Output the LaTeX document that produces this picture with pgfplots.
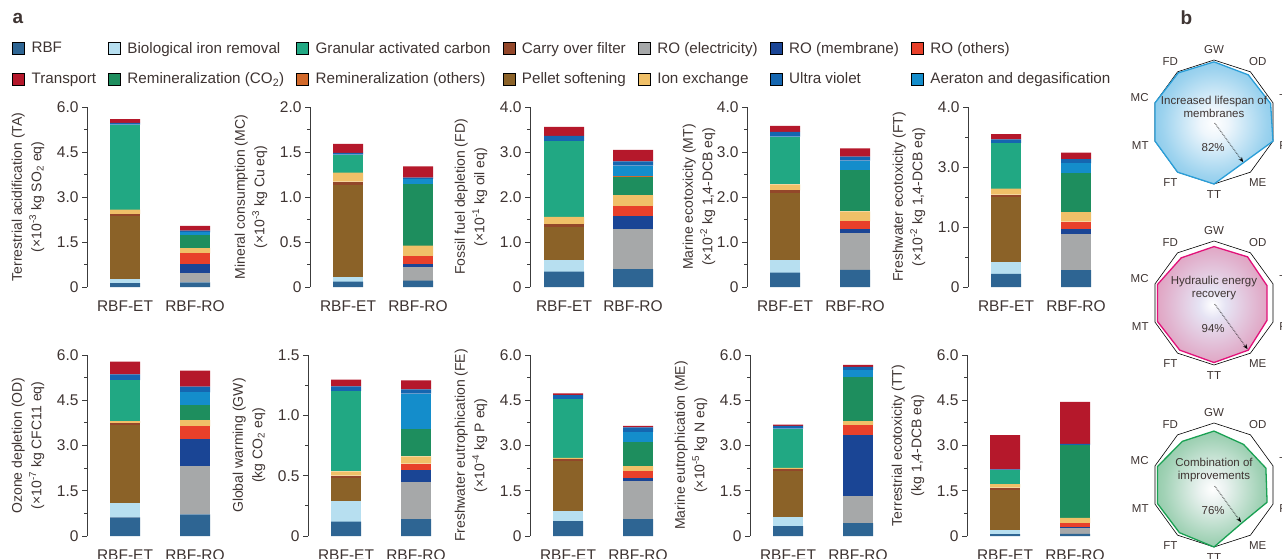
\documentclass[border=0pt]{standalone}
\usepackage{fontspec}
\setmainfont{Liberation Sans}
\usepackage{pgfplots}
\usepackage{pgfplotstable}
\pgfplotsset{compat=1.18}
\usepgfplotslibrary{polar}
\usetikzlibrary{arrows.meta}

\definecolor{cRBF}{HTML}{2E6593}
\definecolor{cBio}{HTML}{B7DFF0}
\definecolor{cGAC}{HTML}{21A883}
\definecolor{cCar}{HTML}{93472A}
\definecolor{cROe}{HTML}{A6A8A9}
\definecolor{cROm}{HTML}{1A4595}
\definecolor{cROo}{HTML}{E8402A}
\definecolor{cTra}{HTML}{B5182B}
\definecolor{cRCO}{HTML}{1E8E5E}
\definecolor{cRMo}{HTML}{D2692A}
\definecolor{cPel}{HTML}{8B6228}
\definecolor{cIon}{HTML}{F0C068}
\definecolor{cUV}{HTML}{1566B0}
\definecolor{cAer}{HTML}{148DCB}
\definecolor{txc}{HTML}{3E3432}
\definecolor{axc}{HTML}{3C3C3C}
\definecolor{bBlue}{HTML}{3AA8DE}
\definecolor{eBlue}{HTML}{2A9ED8}
\definecolor{bPink}{HTML}{D9618F}
\definecolor{ePink}{HTML}{E2127A}
\definecolor{bGreen}{HTML}{4AAB70}
\definecolor{eGreen}{HTML}{1AA153}
\definecolor{cLav}{HTML}{E6E4F4}
\definecolor{cIce}{HTML}{EEF6FC}
\definecolor{cMint}{HTML}{EAF2F0}

\pgfdeclareradialshading{shBlue}{\pgfpointorigin}{color(0bp)=(white); color(6bp)=(cIce); color(22bp)=(bBlue!45!cIce); color(40bp)=(bBlue!85!white); color(50bp)=(bBlue)}
\pgfdeclareradialshading{shPink}{\pgfpointorigin}{color(0bp)=(white); color(6bp)=(cLav); color(22bp)=(bPink!40!cLav); color(40bp)=(bPink!85!white); color(50bp)=(bPink)}
\pgfdeclareradialshading{shGreen}{\pgfpointorigin}{color(0bp)=(white); color(6bp)=(cMint); color(22bp)=(bGreen!45!cMint); color(40bp)=(bGreen!85!white); color(50bp)=(bGreen)}

% columns: x RBF Bio ROe ROm ROo Pel Car Ion GAC RCO RMo Aer UV Tra
\pgfplotstableread{
x RBF Bio ROe ROm ROo Pel Car Ion GAC RCO RMo Aer UV Tra
38 0.13 0.15 0 0 0 2.08 0.07 0.15 2.83 0 0 0 0.06 0.13
108 0.155 0 0.30 0.325 0.34 0 0 0.18 0 0.42 0.02 0.08 0.06 0.16
}\tTA
\pgfplotstableread{
x RBF Bio ROe ROm ROo Pel Car Ion GAC RCO RMo Aer UV Tra
38 0.06 0.055 0 0 0 1.022 0.033 0.10 0.20 0 0 0 0.02 0.10
108 0.07 0 0.156 0.034 0.08 0 0 0.12 0 0.69 0 0.05 0.015 0.125
}\tMC
\pgfplotstableread{
x RBF Bio ROe ROm ROo Pel Car Ion GAC RCO RMo Aer UV Tra
34 0.34 0.26 0 0 0 0.74 0.06 0.16 1.69 0 0 0 0.11 0.20
103 0.40 0 0.89 0.28 0.22 0 0 0.25 0 0.40 0.03 0.23 0.09 0.26
}\tFD
\pgfplotstableread{
x RBF Bio ROe ROm ROo Pel Car Ion GAC RCO RMo Aer UV Tra
38 0.32 0.27 0 0 0 1.50 0.06 0.13 1.06 0 0 0 0.11 0.13
108 0.38 0 0.81 0.10 0.17 0 0 0.22 0 0.91 0 0.22 0.09 0.18
}\tMT
\pgfplotstableread{
x RBF Bio ROe ROm ROo Pel Car Ion GAC RCO RMo Aer UV Tra
38 0.22 0.20 0 0 0 1.08 0.04 0.10 0.76 0 0 0 0.06 0.09
108 0.28 0 0.60 0.09 0.12 0 0 0.16 0 0.65 0 0.16 0.07 0.11
}\tFT
\pgfplotstableread{
x RBF Bio ROe ROm ROo Pel Car Ion GAC RCO RMo Aer UV Tra
38 0.62 0.47 0 0 0 2.59 0.07 0.06 1.36 0 0 0 0.19 0.42
108 0.72 0 1.59 0.90 0.42 0 0 0.21 0 0.50 0 0.42 0.19 0.53
}\tOD
\pgfplotstableread{
x RBF Bio ROe ROm ROo Pel Car Ion GAC RCO RMo Aer UV Tra
38 0.12 0.17 0 0 0 0.19 0.02 0.035 0.665 0 0 0 0.04 0.055
108 0.14 0 0.31 0.10 0.05 0 0 0.06 0 0.23 0 0.29 0.035 0.075
}\tGW
\pgfplotstableread{
x RBF Bio ROe ROm ROo Pel Car Ion GAC RCO RMo Aer UV Tra
38 0.49 0.34 0 0 0 1.65 0.07 0.04 1.95 0 0 0 0.13 0.06
108 0.56 0 1.27 0.10 0.22 0 0 0.17 0 0.80 0 0.33 0.15 0.05
}\tFE
\pgfplotstableread{
x RBF Bio ROe ROm ROo Pel Car Ion GAC RCO RMo Aer UV Tra
38 0.33 0.29 0 0 0 1.53 0.06 0.05 1.30 0 0 0 0.09 0.04
108 0.43 0 0.89 2.02 0.34 0 0 0.13 0 1.47 0 0.22 0.11 0.06
}\tME
\pgfplotstableread{
x RBF Bio ROe ROm ROo Pel Car Ion GAC RCO RMo Aer UV Tra
38 0.06 0.13 0 0 0 1.33 0.08 0.12 0.46 0 0 0 0.03 1.13
108 0.07 0 0.20 0.04 0.12 0 0 0.17 0 2.41 0 0 0.04 1.40
}\tTT

\newcommand\stackbars[1]{%
 \addplot[fill=cRBF,draw=none] table[x=x,y=RBF]{#1};
 \addplot[fill=cBio,draw=none] table[x=x,y=Bio]{#1};
 \addplot[fill=cROe,draw=none] table[x=x,y=ROe]{#1};
 \addplot[fill=cROm,draw=none] table[x=x,y=ROm]{#1};
 \addplot[fill=cROo,draw=none] table[x=x,y=ROo]{#1};
 \addplot[fill=cPel,draw=none] table[x=x,y=Pel]{#1};
 \addplot[fill=cCar,draw=none] table[x=x,y=Car]{#1};
 \addplot[fill=cIon,draw=none] table[x=x,y=Ion]{#1};
 \addplot[fill=cGAC,draw=none] table[x=x,y=GAC]{#1};
 \addplot[fill=cRCO,draw=none] table[x=x,y=RCO]{#1};
 \addplot[fill=cRMo,draw=none] table[x=x,y=RMo]{#1};
 \addplot[fill=cAer,draw=none] table[x=x,y=Aer]{#1};
 \addplot[fill=cUV,draw=none] table[x=x,y=UV]{#1};
 \addplot[fill=cTra,draw=none] table[x=x,y=Tra]{#1};
}

\pgfplotsset{
 barax/.style={
  ybar stacked, bar width=30pt,
  scale only axis, width=140pt, height=180pt,
  xmin=0, xmax=140, ymin=0,
  axis y line*=left, axis x line*=bottom,
  x axis line style={draw=none},
  xtick={38,108}, xticklabels={RBF-ET,RBF-RO},
  x tick style={draw=none},
  tick align=outside,
  major tick length=5pt, minor tick length=3pt,
  minor y tick num=1,
  y axis line style={line width=0.8pt, color=axc},
  y tick style={line width=0.8pt, color=axc},
  yticklabel style={font=\fontsize{15.5}{18}\selectfont, text=txc},
  xticklabel style={font=\fontsize{15.5}{18}\selectfont, text=txc, yshift=-5pt},
  ylabel style={font=\fontsize{14}{19.5}\selectfont, align=center, text=txc, at={(axis description cs:-0.421,0.5)}, anchor=center},
  clip=false,
 },
 radar/.style={
  scale only axis, width=124pt, height=124pt, hide axis,
  xmin=0, xmax=360, ymin=0, ymax=1, clip=false, anchor=center,
 },
}
\newcommand\radlabels{%
 \node[anchor=-90] at (axis cs:90,1.05) {GW};
 \node[anchor=-126] at (axis cs:54,1.05) {OD};
 \node[anchor=-162] at (axis cs:18,1.05) {TA};
 \node[anchor=162] at (axis cs:-18,1.05) {FE};
 \node[anchor=126] at (axis cs:-54,1.05) {ME};
 \node[anchor=90] at (axis cs:-90,1.05) {TT};
 \node[anchor=54] at (axis cs:-126,1.05) {FT};
 \node[anchor=18] at (axis cs:-162,1.05) {MT};
 \node[anchor=-18] at (axis cs:162,1.05) {MC};
 \node[anchor=-54] at (axis cs:126,1.05) {FD};
}

\begin{document}
\begin{tikzpicture}
\path[use as bounding box] (0pt,0pt) rectangle (1282pt,558pt);
\clip (0pt,0pt) rectangle (1282pt,558pt);

% legend and panel letters
\begin{axis}[at={(0pt,0pt)}, anchor=south west, scale only axis, width=1282pt, height=558pt,
  xmin=0, xmax=1282, ymin=0, ymax=558, hide axis, clip=false,
  legend columns=7,
  legend cell align=left,
  legend image code/.code={\fill[#1] (0pt,-6pt) rectangle (12pt,6pt); \path (17pt,0pt);},
  legend style={at={(axis cs:12,518)}, anchor=north west, draw=none, fill=none, inner sep=0pt,
    font=\fontsize{15.2}{18}\selectfont, text=txc, row sep=14pt,
    /tikz/every even column/.append style={column sep=10pt},
    /tikz/column 12/.append style={column sep=-5pt}}]
\addplot[draw=none, forget plot] coordinates {(0,0)};
\addlegendimage{fill=cRBF}\addlegendentry{RBF}
\addlegendimage{fill=cBio}\addlegendentry{Biological iron removal}
\addlegendimage{fill=cGAC}\addlegendentry{Granular activated carbon}
\addlegendimage{fill=cCar}\addlegendentry{Carry over filter}
\addlegendimage{fill=cROe}\addlegendentry{RO (electricity)}
\addlegendimage{fill=cROm}\addlegendentry{RO (membrane)}
\addlegendimage{fill=cROo}\addlegendentry{RO (others)}
\addlegendimage{fill=cTra}\addlegendentry{Transport}
\addlegendimage{fill=cRCO}\addlegendentry{Remineralization (CO\textsubscript{2})}
\addlegendimage{fill=cRMo}\addlegendentry{Remineralization (others)}
\addlegendimage{fill=cPel}\addlegendentry{Pellet softening}
\addlegendimage{fill=cIon}\addlegendentry{Ion exchange}
\addlegendimage{fill=cUV}\addlegendentry{Ultra violet}
\addlegendimage{fill=cAer}\addlegendentry{Aeraton and degasification}
\node[font=\fontsize{19}{20}\selectfont\bfseries, text=txc, anchor=west] at (axis cs:9,540) {a};
\node[font=\fontsize{19}{20}\selectfont\bfseries, text=txc, anchor=west] at (axis cs:1177,540) {b};
\end{axis}

% ---- top row ----
\begin{axis}[barax, at={(87pt,271pt)}, anchor=south west, ymax=6,
  ytick={0,1.5,3,4.5,6}, yticklabels={0,1.5,3.0,4.5,6.0},
  ylabel={Terrestrial acidification (TA)\\(×10\textsuperscript{-3} kg SO\textsubscript{2} eq)}]
\stackbars{\tTA}
\end{axis}
\begin{axis}[barax, at={(310pt,271pt)}, anchor=south west, ymax=2,
  ytick={0,0.5,1,1.5,2}, yticklabels={0,0.5,1.0,1.5,2.0},
  ylabel={Mineral consumption (MC)\\(×10\textsuperscript{-3} kg Cu eq)}]
\stackbars{\tMC}
\end{axis}
\begin{axis}[barax, at={(530pt,271pt)}, anchor=south west, ymax=4, bar width=40pt,
  xtick={34,103},
  ytick={0,1,2,3,4}, yticklabels={0,1.0,2.0,3.0,4.0},
  ylabel={Fossil fuel depletion (FD)\\(×10\textsuperscript{-1} kg oil eq)}]
\stackbars{\tFD}
\end{axis}
\begin{axis}[barax, at={(747pt,271pt)}, anchor=south west, ymax=4,
  ytick={0,1,2,3,4}, yticklabels={0,1.0,2.0,3.0,4.0},
  ylabel style={at={(axis description cs:-0.343,0.5)}},
  ylabel={Marine ecotoxicity (MT)\\(×10\textsuperscript{-2} kg 1,4-DCB eq)}]
\stackbars{\tMT}
\end{axis}
\begin{axis}[barax, at={(968pt,271pt)}, anchor=south west, ymax=3,
  ytick={0,1,2,3}, yticklabels={0,1.0,3.0,4.0},
  ylabel={Freshwater ecotoxicity (FT)\\(×10\textsuperscript{-2} kg 1,4-DCB eq)}]
\stackbars{\tFT}
\end{axis}

% ---- bottom row ----
\begin{axis}[barax, height=181pt, at={(87pt,22pt)}, anchor=south west, ymax=6,
  ytick={0,1.5,3,4.5,6}, yticklabels={0,1.5,3.0,4.5,6.0},
  ylabel={Ozone depletion (OD)\\(×10\textsuperscript{-7} kg CFC11 eq)}]
\stackbars{\tOD}
\end{axis}
\begin{axis}[barax, height=181pt, at={(308pt,22pt)}, anchor=south west, ymax=1.5,
  ytick={0,0.5,1,1.5}, yticklabels={0,0.5,1.0,1.5},
  ylabel={Global warming (GW)\\(kg CO\textsubscript{2} eq)}]
\stackbars{\tGW}
\end{axis}
\begin{axis}[barax, height=181pt, at={(530pt,22pt)}, anchor=south west, ymax=6,
  ytick={0,1.5,3,4.5,6}, yticklabels={0,1.5,3.0,4.5,6.0},
  ylabel={Freshwater eutrophication (FE)\\(×10\textsuperscript{-4} kg P eq)}]
\stackbars{\tFE}
\end{axis}
\begin{axis}[barax, height=181pt, at={(750pt,22pt)}, anchor=south west, ymax=6,
  ytick={0,1.5,3,4.5,6}, yticklabels={0,1.5,3.0,4.5,6.0},
  ylabel={Marine eutrophication (ME)\\(×10\textsuperscript{-5} kg N eq)}]
\stackbars{\tME}
\end{axis}
\begin{axis}[barax, height=181pt, at={(967pt,22pt)}, anchor=south west, ymax=6,
  ytick={0,1.5,3,4.5,6}, yticklabels={0,1.5,3.0,4.5,6.0},
  ylabel={Terrestrial ecotoxicity (TT)\\(kg 1,4-DCB eq)}]
\stackbars{\tTT}
\end{axis}

% ---- radar charts ----
\tikzset{every node/.append style={text=txc}}
\begin{polaraxis}[radar, at={(1214pt,436pt)}]
\addplot[draw=black, line width=0.6pt, fill=white] coordinates {(90,1) (54,1) (18,1) (-18,1) (-54,1) (-90,1) (-126,1) (-162,1) (162,1) (126,1) (90,1)};
\addplot[shade, shading=shBlue, draw=eBlue, line width=1.3pt] coordinates {(90,0.97) (54,0.94) (18,0.96) (-18,1.0) (-54,0.81) (-90,1.0) (-126,1.0) (-162,1.0) (162,1.0) (126,0.98) (90,0.97)};
\begin{scope}[font=\fontsize{11.5}{12.5}\selectfont]
\radlabels
\node[align=center] at (axis cs:90,0.24) {Increased lifespan of\\membranes};
\node at (axis cs:-92,0.41) {82\%};
\end{scope}
\draw[densely dotted, line width=0.7pt, -{Stealth[length=5pt,width=4pt]}] (axis cs:-54,0.02) -- (axis cs:-54,0.80);
\end{polaraxis}

\begin{polaraxis}[radar, at={(1214pt,255pt)}]
\addplot[draw=black, line width=0.6pt, fill=white] coordinates {(90,1) (54,1) (18,1) (-18,1) (-54,1) (-90,1) (-126,1) (-162,1) (162,1) (126,1) (90,1)};
\addplot[shade, shading=shPink, draw=ePink, line width=1.3pt] coordinates {(90,0.91) (54,0.92) (18,0.90) (-18,0.90) (-54,0.94) (-90,0.96) (-126,0.94) (-162,0.96) (162,0.96) (126,0.90) (90,0.91)};
\begin{scope}[font=\fontsize{11.5}{12.5}\selectfont]
\radlabels
\node[align=center] at (axis cs:90,0.24) {Hydraulic energy\\recovery};
\node at (axis cs:-92,0.41) {94\%};
\end{scope}
\draw[densely dotted, line width=0.7pt, -{Stealth[length=5pt,width=4pt]}] (axis cs:-54,0.02) -- (axis cs:-54,0.92);
\end{polaraxis}

\begin{polaraxis}[radar, at={(1214pt,73pt)}]
\addplot[draw=black, line width=0.6pt, fill=white] coordinates {(90,1) (54,1) (18,1) (-18,1) (-54,1) (-90,1) (-126,1) (-162,1) (162,1) (126,1) (90,1)};
\addplot[shade, shading=shGreen, draw=eGreen, line width=1.3pt] coordinates {(90,0.87) (54,0.81) (18,0.88) (-18,0.90) (-54,0.76) (-90,1.0) (-126,0.95) (-162,0.96) (162,0.96) (126,0.87) (90,0.87)};
\begin{scope}[font=\fontsize{11.5}{12.5}\selectfont]
\radlabels
\node[align=center] at (axis cs:90,0.24) {Combination of\\improvements};
\node at (axis cs:-92,0.41) {76\%};
\end{scope}
\draw[densely dotted, line width=0.7pt, -{Stealth[length=5pt,width=4pt]}] (axis cs:-54,0.02) -- (axis cs:-54,0.74);
\end{polaraxis}
\end{tikzpicture}
\end{document}
